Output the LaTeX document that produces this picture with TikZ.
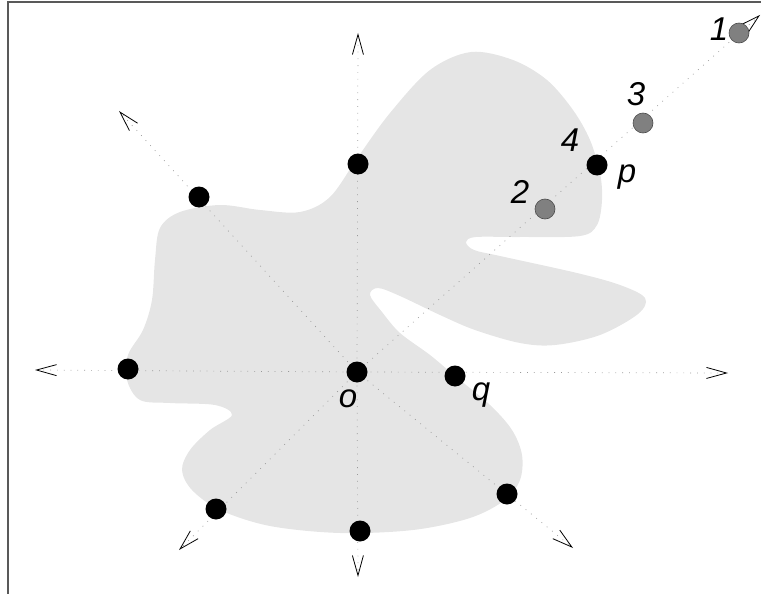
\documentclass[tikz,border=0pt]{standalone}
\usepackage{fontspec}
\setmainfont{Liberation Sans}
\usetikzlibrary{arrows.meta,backgrounds}

\begin{document}
\begin{tikzpicture}[x=1pt,y=-1pt,
  ray/.style={gray!80,line width=0.7pt,dash pattern=on 0.8pt off 6pt,
    -{Straight Barb[color=black,length=20pt,width=11pt,line width=0.8pt]}},
  bdot/.style={circle,fill=black,minimum size=21pt,inner sep=0pt},
  gdot/.style={circle,fill=gray,draw=black!70,line width=0.6pt,minimum size=20pt,inner sep=0pt},
  lbl/.style={inner sep=0pt,font=\fontsize{33}{36}\selectfont\itshape}]
\useasboundingbox (0,0) rectangle (761,594);
\draw[black!65,line width=1.5pt] (8,594) -- (8,2) -- (761,2);

% the points
\node[bdot] (o) at (357,372) {};
\node[bdot] (q) at (455,376) {};
\node[bdot] (p) at (597,165) {};
\node[gdot] (g1) at (739,33) {};
\node[gdot] (g2) at (545,209) {};
\node[gdot] (g3) at (643,123) {};
\node[bdot] (n) at (358,164) {};
\node[bdot] (nw) at (199,197) {};
\node[bdot] (w) at (128,369) {};
\node[bdot] (sw) at (216,509) {};
\node[bdot] (s) at (360,531) {};
\node[bdot] (se) at (507,494) {};

% arrow tips of the rays
\coordinate (tn) at (358,33);
\coordinate (tw) at (35,370);
\coordinate (te) at (728,373);
\coordinate (ts) at (358,577);
\coordinate (tsw) at (179,550);
\coordinate (tse) at (573,548);
\coordinate (tnw) at (119,111);
\coordinate (tne) at (760,15);

\begin{scope}[on background layer]
\fill[gray!20] plot[smooth cycle,tension=0.55] coordinates {
  (471,52) (513,60) (547,80) (573,110) (590,140) (600,173) (602,200)
  (597,225) (580,236) (520,237) (476,237) (466,242) (474,250) (500,256)
  (577,273) (620,285) (645,298) (638,314) (600,335) (555,345) (520,343)
  (475,330) (440,315) (400,296) (378,288) (370,295) (382,312) (400,333)
  (430,355) (455,376) (490,405) (512,430) (522,455) (520,480) (505,500)
  (470,518) (413,530) (340,533) (270,526) (220,510) (192,490) (182,470)
  (190,450) (210,430) (232,415) (215,405) (170,403) (140,400) (127,380)
  (128,355) (143,330) (152,300) (155,260) (160,228) (180,212) (220,205)
  (260,210) (300,212) (330,197) (358,157) (390,113) (430,70)};
\foreach \t in {tn,tw,te,ts,tsw,tse,tnw,tne}
  \draw[ray] (o.center) -- (\t);
\end{scope}

% labels
\node[lbl] (l1) at (719,29) {1};
\node[lbl] (l2) at (520,192) {2};
\node[lbl] (l3) at (636,94) {3};
\node[lbl] (l4) at (570,140) {4};
\node[lbl] (lp) at (627,177) {p};
\node[lbl] (lo) at (348,399) {o};
\node[lbl] (lq) at (481,395) {q};
\end{tikzpicture}
\end{document}
